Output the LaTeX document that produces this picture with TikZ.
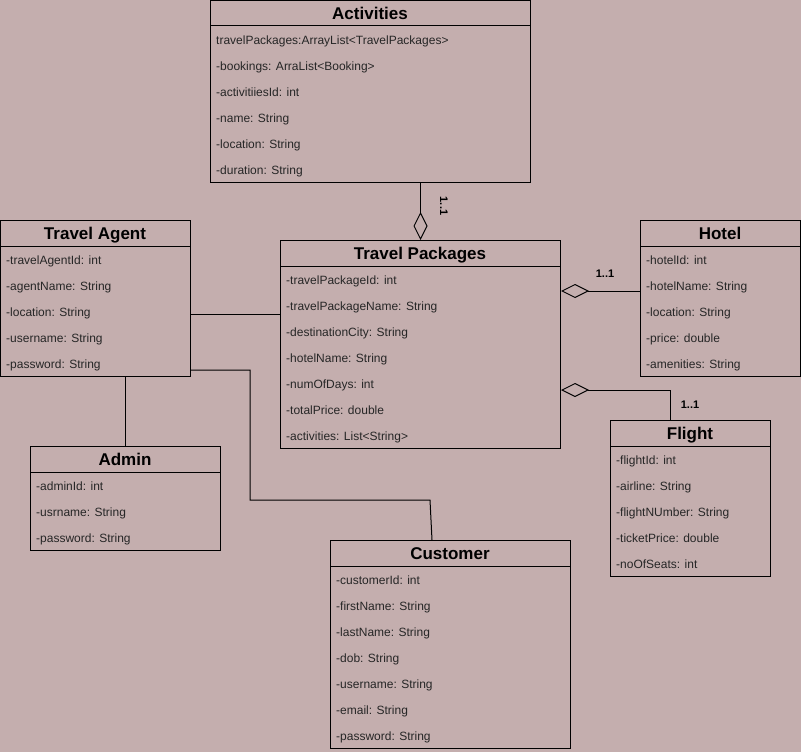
\documentclass[tikz,border=0pt]{standalone}
\usepackage{fontspec}
\setmainfont{Liberation Sans}
\usetikzlibrary{arrows.meta}
\definecolor{bg}{RGB}{196,174,174}
\tikzset{
  x=1pt,y=-1pt,
  classbox/.style={draw=black,line width=1pt,anchor=north west,inner sep=0pt},
  classtitle/.style={font=\fontsize{17}{20}\selectfont\bfseries,anchor=base,inner sep=0pt},
  attr/.style={font=\fontsize{12}{14}\selectfont,anchor=base west,inner sep=0pt,text=black!85},
  conn/.style={line width=1pt,draw=black},
  mult/.style={font=\fontsize{11}{13}\selectfont\bfseries,inner sep=0pt},
  agg/.style={conn,{Diamond[open,length=28pt,width=14pt,line width=1pt]}-},
}
% #1 name, #2 x, #3 y, #4 w, #5 h, #6 title, #7 attributes
\newcommand\umlclass[7]{%
  \node[classbox,minimum width=#4pt,minimum height=#5pt] (#1) at (#2,#3) {};
  \draw[line width=1pt] (#2,#3+26) -- (#2+#4,#3+26);
  \node[classtitle] (#1-t) at (#2+#4/2,#3+19.5) {#6};
  \foreach \a [count=\i] in {#7}{
    \node[attr] (#1-\i) at (#2+6,#3+18.5+26*\i) {\a};
  }%
}
\begin{document}
\begin{tikzpicture}
\fill[bg] (0,0) rectangle (801,752);
\useasboundingbox (0,0) rectangle (801,752);

\umlclass{act}{210}{0}{320}{182}{Activities}{travelPackages:ArrayList<TravelPackages>,-bookings: ArraList<Booking>,-activitiiesId: int,-name: String,-location: String,-duration: String}
\umlclass{agent}{0}{220}{190}{156}{Travel Agent}{-travelAgentId: int,-agentName: String,-location: String,-username: String,-password: String}
\umlclass{tp}{280}{240}{280}{208}{Travel Packages}{-travelPackageId: int,-travelPackageName: String,-destinationCity: String,-hotelName: String,-numOfDays: int,-totalPrice: double,-activities: List<String>}
\umlclass{hotel}{640}{220}{160}{156}{Hotel}{-hotelId: int,-hotelName: String,-location: String,-price: double,-amenities: String}
\umlclass{flight}{610}{420}{160}{156}{Flight}{-flightId: int,-airline: String,-flightNUmber: String,-ticketPrice: double,-noOfSeats: int}
\umlclass{admin}{30}{446}{190}{104}{Admin}{-adminId: int,-usrname: String,-password: String}
\umlclass{cust}{330}{540}{240}{208}{Customer}{-customerId: int,-firstName: String,-lastName: String,-dob: String,-username: String,-email: String,-password: String}

% Activities -- Travel Packages
\draw[agg] (tp.north) -- ([xshift=50pt]act.south);
\node[mult,rotate=-90] (m1) at (444,206) {1..1};
% Hotel
\draw[agg] ([yshift=-51pt]tp.north east) -- ([yshift=-71pt]hotel.north west);
\node[mult] (m2) at (605,274) {1..1};
% Flight
\coordinate (fc) at (670,390);
\draw[agg] ([yshift=-150pt]tp.north east) -- (fc) -- ([xshift=60pt]flight.north west);
\node[mult] (m3) at (690,405) {1..1};
% Travel Agent -- Travel Packages
\draw[conn] ([yshift=-94pt]agent.north east) -- ([yshift=-74pt]tp.north west);
% Travel Agent -- Admin
\draw[conn] ([xshift=125pt]agent.south west) -- ([xshift=95pt]admin.north west);
% Travel Agent -- Customer
\coordinate (c1) at (250,370);
\coordinate (c2) at (250,500);
\coordinate (c3) at (430,500);
\draw[conn] ([yshift=-150pt]agent.north east) -- (c1) -- (c2) -- (c3) -- ([xshift=102pt]cust.north west);
\end{tikzpicture}
\end{document}
